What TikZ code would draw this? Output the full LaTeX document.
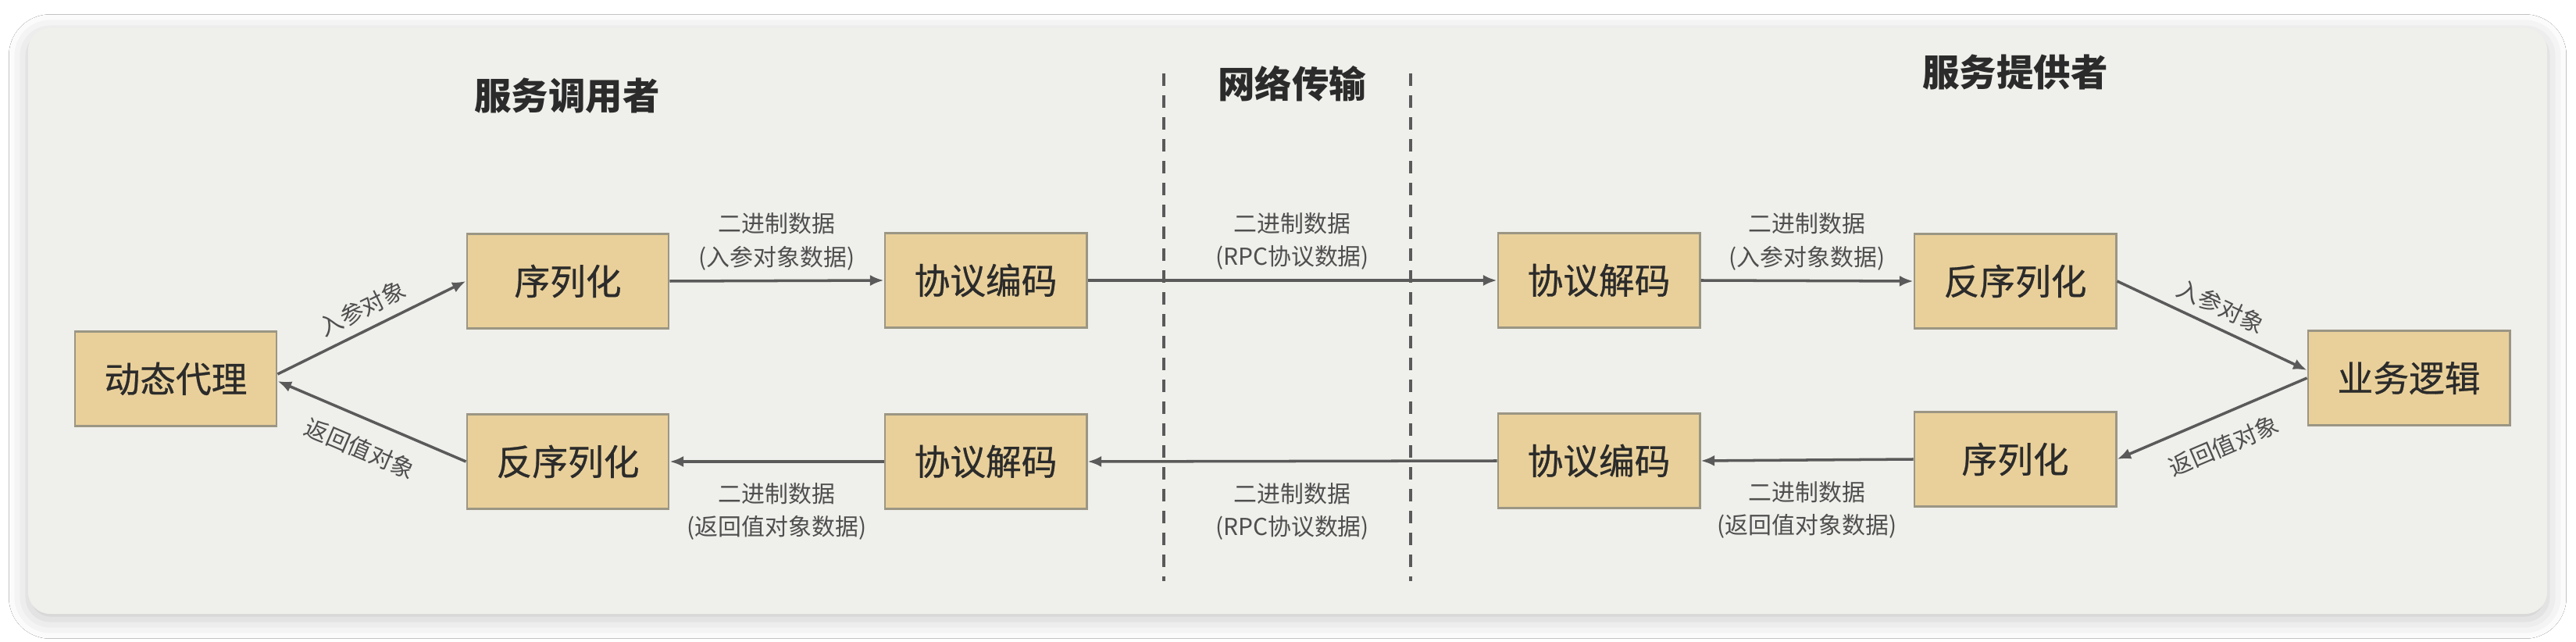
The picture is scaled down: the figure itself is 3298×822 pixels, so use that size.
\documentclass[tikz,border=0pt]{standalone}
\usepackage{fontspec}
\setmainfont{Noto Sans CJK SC}
\newfontfamily\boxfont{Noto Sans CJK SC}[FakeBold=0.6]
\usepackage{tikz}
\usetikzlibrary{arrows.meta,positioning,shadows.blur}

\definecolor{cardbg}{HTML}{EFEFEB}
\definecolor{boxfill}{HTML}{E9D09A}
\definecolor{boxline}{HTML}{9B9684}
\definecolor{linegray}{HTML}{5A5A5A}
\definecolor{labelgray}{HTML}{4F4F4F}
\definecolor{textdark}{HTML}{2B2B2B}

\begin{document}
\begin{tikzpicture}[x=0.01cm,y=-0.01cm,
  box/.style={rectangle,draw=boxline,line width=0.8pt,fill=boxfill,minimum width=2.58cm,minimum height=1.21cm,inner sep=0pt,font=\boxfont\fontsize{13}{13}\selectfont,text=textdark},
  title/.style={font=\fontsize{13.5}{14}\selectfont\bfseries,text=textdark},
  lbl/.style={font=\fontsize{8.5}{12}\selectfont,text=labelgray,align=center},
  flow/.style={draw=linegray,line width=1pt,-{Latex[length=5pt,width=4pt]}},
  split/.style={draw=linegray,line width=0.9pt,dash pattern=on 0.16cm off 0.12cm}]

\useasboundingbox (0,0) rectangle (3298,822);
\fill[white] (0,0) rectangle (3298,822);
\fill[cardbg,rounded corners=0.28cm,blur shadow={shadow xshift=0pt,shadow yshift=-2pt,shadow blur radius=7pt,shadow opacity=22}] (36,36) rectangle (3261,786);

% titles
\node[title] (caller) at (726,123) {服务调用者};
\node[title] (net) at (1654,107) {网络传输};
\node[title] (provider) at (2580,92) {服务提供者};

\draw[split] (1490,94) -- (1490,744);
\draw[split] (1806,94) -- (1806,744);

% caller side
\node[box] (proxy) at (225,485) {动态代理};
\node[box] (ser) at (727,360) {序列化};
\node[box] (deser) at (727,591) {反序列化};
\node[box] (enc) at (1262,359) {协议编码};
\node[box] (dec) at (1262,591) {协议解码};

% provider side
\node[box] (pdec) at (2047,359) {协议解码};
\node[box] (penc) at (2047,590) {协议编码};
\node[box] (pdeser) at (2580,360) {反序列化};
\node[box] (pser) at (2580,588) {序列化};
\node[box] (logic) at (3084,484) {业务逻辑};

% request
\draw[flow] ([yshift=0.06cm]proxy.east) -- (ser.west) node[midway,sloped,above,lbl] {入参对象};
\draw[flow] (ser.east) -- (enc.west) node[midway,above,lbl] {二进制数据\\(入参对象数据)};
\draw[flow] (enc.east) -- (pdec.west) node[midway,above,lbl] {二进制数据\\(RPC协议数据)};
\draw[flow] (pdec.east) -- (pdeser.west) node[midway,above,lbl] {二进制数据\\(入参对象数据)};
\draw[flow] (pdeser.east) -- ([yshift=0.1cm]logic.west) node[midway,sloped,above,lbl] {入参对象};

% response
\draw[flow] (logic.west) -- (pser.east) node[midway,sloped,below=3pt,lbl] {返回值对象};
\draw[flow] (pser.west) -- (penc.east) node[midway,below=4pt,lbl] {二进制数据\\(返回值对象数据)};
\draw[flow] (penc.west) -- (dec.east) node[midway,below=4pt,lbl] {二进制数据\\(RPC协议数据)};
\draw[flow] (dec.west) -- (deser.east) node[midway,below=4pt,lbl] {二进制数据\\(返回值对象数据)};
\draw[flow] (deser.west) -- ([yshift=-0.03cm]proxy.east) node[midway,sloped,below=3pt,lbl] {返回值对象};

\end{tikzpicture}
\end{document}
